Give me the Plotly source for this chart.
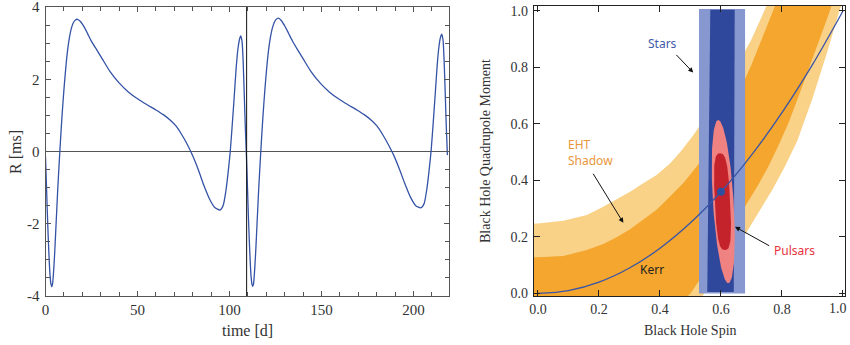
import numpy as np
import plotly.graph_objects as go

# ---------------- Left panel data: timing residual ----------------
time_d = [0, 0.5, 1.0, 1.5, 2.0, 2.5, 3.0, 3.4, 3.8, 4.3, 5.0, 5.8, 6.6, 7.4, 8.2, 9.0, 10.0, 11.0, 12.0,
          13.0, 14.0, 15.0, 16.0, 17.4, 19.0, 21.0, 23.0, 25.0, 28.0, 31.0, 35.0, 40.0, 45.0, 50.0, 55.0,
          60.0, 64.0, 68.0, 71.0, 74.0, 77.0, 80.0, 83.0, 86.0, 89.0, 92.0, 94.8, 96.5, 98.0, 99.2, 100.4,
          101.5, 102.6, 103.6, 104.6, 105.4, 106.1, 106.8, 107.4, 108.0, 108.6,
          109.2, 109.7, 110.2, 110.7, 111.2, 111.7, 112.2, 112.6, 113.0, 113.5, 114.2, 115.0, 115.8, 116.6,
          117.4, 118.2, 119.2, 120.2, 121.2, 122.2, 123.2, 124.2, 125.2, 126.6, 128.2, 130.2, 132.2, 134.2,
          137.2, 140.2, 144.2, 149.2, 154.2, 159.2, 164.2, 169.2, 173.2, 177.2, 180.2, 183.2, 186.2, 189.2,
          192.2, 195.2, 198.2, 201.2, 204.0, 205.7, 207.2, 208.4, 209.6, 210.7, 211.8, 212.8, 213.8, 214.6,
          215.3, 216.0, 216.6, 217.2, 217.8, 218.4]
residual_ms = [-0.15, -0.9, -1.7, -2.4, -3.0, -3.45, -3.68, -3.74, -3.68, -3.4, -2.8, -1.95, -1.1, -0.35, 0.35,
               1.0, 1.7, 2.3, 2.8, 3.15, 3.4, 3.55, 3.63, 3.66, 3.6, 3.45, 3.25, 3.05, 2.8, 2.55, 2.22, 1.9,
               1.65, 1.46, 1.3, 1.15, 1.02, 0.86, 0.7, 0.47, 0.2, -0.12, -0.5, -0.93, -1.3, -1.55, -1.62,
               -1.5, -1.1, -0.6, 0.0, 0.75, 1.55, 2.3, 2.85, 3.1, 3.2, 3.05, 2.5, 1.6, 0.65,
               -0.15, -0.9, -1.7, -2.4, -3.0, -3.45, -3.68, -3.73, -3.68, -3.4, -2.8, -1.95, -1.1, -0.35,
               0.35, 1.0, 1.7, 2.3, 2.8, 3.15, 3.4, 3.56, 3.65, 3.69, 3.62, 3.46, 3.26, 3.06, 2.8, 2.55, 2.22,
               1.9, 1.65, 1.46, 1.3, 1.15, 1.02, 0.86, 0.7, 0.47, 0.2, -0.1, -0.47, -0.88, -1.25, -1.5, -1.56,
               -1.45, -1.05, -0.55, 0.05, 0.8, 1.6, 2.35, 2.9, 3.15, 3.25, 3.1, 2.55, 1.65, 0.7, -0.1]
conjunction_t = 109.3
time_ticks = [0, 50, 100, 150, 200]
resid_ticks = [-4, -2, 0, 2, 4]
resid_labels = ["-4", "-2", "0", "2", "4"]

# ---------------- Right panel data: spin vs quadrupole ----------------
kerr_spin = [0.0, 0.1, 0.2, 0.3, 0.4, 0.5, 0.6, 0.7, 0.8, 0.9, 1.0]
kerr_quad = [0.0, 0.01, 0.04, 0.09, 0.16, 0.25, 0.36, 0.49, 0.64, 0.81, 1.0]

eht_outer_upper_x = [-0.02, 0.0, 0.083, 0.16, 0.214, 0.258, 0.302, 0.345, 0.389, 0.433, 0.47, 0.509,
                     0.55, 0.60, 0.65, 0.70, 0.741, 0.75]
eht_outer_upper_y = [0.248, 0.248, 0.257, 0.278, 0.307, 0.333, 0.36, 0.39, 0.419, 0.46, 0.505, 0.56,
                     0.625, 0.71, 0.80, 0.90, 1.0, 1.02]
eht_outer_lower_x = [0.995, 0.988, 0.95, 0.90, 0.85, 0.81, 0.77, 0.72, 0.68, 0.64, 0.60, 0.56, 0.54]
eht_outer_lower_y = [1.02, 1.0, 0.86, 0.69, 0.54, 0.45, 0.37, 0.28, 0.21, 0.15, 0.09, 0.03, -0.01]

eht_inner_upper_x = [-0.02, 0.0, 0.083, 0.16, 0.214, 0.258, 0.302, 0.345, 0.389, 0.433, 0.476, 0.52,
                     0.56, 0.60, 0.65, 0.70, 0.74, 0.772, 0.778]
eht_inner_upper_y = [0.128, 0.128, 0.133, 0.154, 0.175, 0.199, 0.227, 0.26, 0.296, 0.343, 0.39, 0.449,
                     0.51, 0.585, 0.69, 0.81, 0.915, 1.0, 1.02]
eht_inner_lower_x = [0.962, 0.957, 0.92, 0.88, 0.85, 0.82, 0.787, 0.755, 0.72, 0.68, 0.64, 0.60, 0.55,
                     0.50, 0.49]
eht_inner_lower_y = [1.02, 1.0, 0.89, 0.77, 0.685, 0.60, 0.52, 0.449, 0.38, 0.31, 0.24, 0.17, 0.08,
                     0.0, -0.01]

stars_outer_x = [0.528, 0.528, 0.679, 0.679]
stars_outer_y = [0.0, 1.007, 1.007, 0.0]
stars_inner_x = [0.555, 0.565, 0.645, 0.642]
stars_inner_y = [0.005, 1.004, 1.004, 0.005]

# pulsar ellipses: centre, half-length vector, half-width (in spin units)
pulsar_outer = dict(cx=0.6075, cy=0.325, ux=-0.0165, uy=0.289, w=0.034)
pulsar_inner = dict(cx=0.605, cy=0.325, ux=-0.008, uy=0.171, w=0.025)
best_spin = [0.6]
best_quad = [0.36]
spin_ticks = [0.0, 0.2, 0.4, 0.6, 0.8, 1.0]
spin_labels = ["0.0", "0.2", "0.4", "0.6", "0.8", "1.0"]


def ellipse(p, power=2.0, n=120):
    t = np.linspace(0, 2 * np.pi, n)
    c, s = np.cos(t), np.sin(t)
    c2 = np.sign(c) * np.abs(c) ** (2.0 / power)
    s2 = np.sign(s) * np.abs(s) ** (2.0 / power)
    x = p["cx"] + p["ux"] * c2 + p["w"] * s2
    y = p["cy"] + p["uy"] * c2
    return x, y


fig = go.Figure()

fig.add_trace(go.Scatter(x=time_d, y=residual_ms, mode="lines",
                         line=dict(color="#3452A6", width=1.3, shape="spline", smoothing=0.6),
                         xaxis="x", yaxis="y", hoverinfo="skip"))

fig.add_trace(go.Scatter(x=eht_outer_upper_x + eht_outer_lower_x + [-0.02],
                         y=eht_outer_upper_y + eht_outer_lower_y + [-0.01],
                         fill="toself", fillcolor="#F9D288", line=dict(width=0),
                         mode="lines", xaxis="x2", yaxis="y2", hoverinfo="skip"))
fig.add_trace(go.Scatter(x=eht_inner_upper_x + eht_inner_lower_x + [-0.02],
                         y=eht_inner_upper_y + eht_inner_lower_y + [-0.01],
                         fill="toself", fillcolor="#F4A62E", line=dict(width=0),
                         mode="lines", xaxis="x2", yaxis="y2", hoverinfo="skip"))
fig.add_trace(go.Scatter(x=stars_outer_x, y=stars_outer_y, fill="toself", fillcolor="#8698CF",
                         line=dict(width=0), mode="lines", xaxis="x2", yaxis="y2", hoverinfo="skip"))
fig.add_trace(go.Scatter(x=stars_inner_x, y=stars_inner_y, fill="toself", fillcolor="#30489C",
                         line=dict(width=0), mode="lines", xaxis="x2", yaxis="y2", hoverinfo="skip"))
ex, ey = ellipse(pulsar_outer, 2.0)
fig.add_trace(go.Scatter(x=ex, y=ey, fill="toself", fillcolor="#F08282", line=dict(width=0),
                         mode="lines", xaxis="x2", yaxis="y2", hoverinfo="skip"))
ex, ey = ellipse(pulsar_inner, 3.0)
fig.add_trace(go.Scatter(x=ex, y=ey, fill="toself", fillcolor="#C4232B", line=dict(width=0),
                         mode="lines", xaxis="x2", yaxis="y2", hoverinfo="skip"))
fig.add_trace(go.Scatter(x=kerr_spin, y=kerr_quad, mode="lines",
                         line=dict(color="#3A55A5", width=1.3, shape="spline"),
                         xaxis="x2", yaxis="y2", hoverinfo="skip"))
fig.add_trace(go.Scatter(x=best_spin, y=best_quad, mode="markers",
                         marker=dict(color="#2F4FA0", size=8), xaxis="x2", yaxis="y2", hoverinfo="skip"))

serif = "Liberation Serif"
sans = "Noto Sans"
W, H = 850, 345

left_dom_x = [45.5 / W, 448.5 / W]
left_dom_y = [(H - 296) / H, (H - 7) / H]
right_dom_x = [534 / W, 844.5 / W]
right_dom_y = [(H - 296) / H, (H - 5.9) / H]

frame_l = "#555555"
frame_r = "#222222"

fig.update_layout(
    template="none",
    width=W, height=H, margin=dict(l=0, r=0, t=0, b=0, autoexpand=False),
    paper_bgcolor="white", plot_bgcolor="white", showlegend=False,
    xaxis=dict(domain=left_dom_x, range=[0, 219], tickvals=time_ticks, ticks="inside", ticklen=5,
               tickcolor=frame_l, showline=True, linecolor=frame_l, linewidth=1, mirror="allticks",
               showgrid=False, zeroline=False, anchor="y", automargin=False, ticklabeloverflow="allow",
               tickfont=dict(family=serif, size=15, color="#333"),
               minor=dict(dtick=10, ticks="inside", ticklen=4, tickcolor=frame_l, showgrid=False)),
    yaxis=dict(domain=left_dom_y, range=[-4, 4], tickvals=resid_ticks, ticktext=resid_labels,
               ticks="inside", ticklen=5,
               tickcolor=frame_l, showline=True, linecolor=frame_l, linewidth=1, mirror="allticks",
               showgrid=False, zeroline=True, zerolinecolor="#555555", zerolinewidth=1.2, anchor="x",
               automargin=False, ticklabeloverflow="allow",
               tickfont=dict(family=serif, size=15, color="#333"), ticklabelstandoff=2,
               minor=dict(dtick=0.5, ticks="inside", ticklen=4, tickcolor=frame_l, showgrid=False)),
    xaxis2=dict(domain=right_dom_x, range=[-0.013, 1.005], tickvals=spin_ticks,
                ticktext=spin_labels[:-1] + [""], ticks="inside", ticklen=6,
                tickcolor=frame_r, showline=True, linecolor=frame_r, linewidth=1.2, mirror="allticks",
                showgrid=False, zeroline=False, anchor="y2", automargin=False, ticklabeloverflow="allow",
                tickfont=dict(family=serif, size=14, color="#333")),
    yaxis2=dict(domain=right_dom_y, range=[-0.009, 1.018], tickvals=spin_ticks,
                ticktext=spin_labels, ticks="inside", ticklen=6,
                tickcolor=frame_r, showline=True, linecolor=frame_r, linewidth=1.2, mirror="allticks",
                showgrid=False, zeroline=False, anchor="x2", ticklabelstandoff=2, automargin=False,
                ticklabeloverflow="allow",
                tickfont=dict(family=serif, size=14, color="#333")),
)

fig.add_shape(type="line", xref="x", yref="y domain", x0=conjunction_t, x1=conjunction_t, y0=0, y1=1,
              line=dict(color="#111", width=1))

ann = []
ann.append(dict(text="time [d]", x=247 / W, y=(H - 330) / H, xref="paper", yref="paper",
                showarrow=False, font=dict(family=serif, size=16, color="#333"),
                xanchor="center", yanchor="middle"))
ann.append(dict(text="R [ms]", x=15 / W, y=(H - 152) / H, xref="paper", yref="paper", textangle=-90,
                showarrow=False, font=dict(family=serif, size=16, color="#333"),
                xanchor="center", yanchor="middle"))
ann.append(dict(text="Black Hole Spin", x=690 / W, y=(H - 330.5) / H, xref="paper", yref="paper",
                showarrow=False, font=dict(family=serif, size=14, color="#333"),
                xanchor="center", yanchor="middle"))
ann.append(dict(text="Black Hole Quadrupole Moment", x=485 / W, y=(H - 151) / H, xref="paper",
                yref="paper", textangle=-90, showarrow=False,
                font=dict(family=serif, size=14, color="#333"), xanchor="center", yanchor="middle"))
# last spin tick label, kept inside the page
ann.append(dict(text=spin_labels[-1], x=849 / W, y=(H - 308.5) / H, xref="paper", yref="paper",
                showarrow=False, font=dict(family=serif, size=14, color="#333"),
                xanchor="right", yanchor="middle"))
ann.append(dict(text="EHT<br>Shadow", x=0.092, y=0.50, xref="x2", yref="y2", showarrow=False,
                align="left", xanchor="left", yanchor="middle",
                font=dict(family=sans, size=12, color="#E8963A")))
ann.append(dict(text="Stars", x=0.409, y=0.886, xref="x2", yref="y2", showarrow=False,
                font=dict(family=sans, size=12, color="#3F5BAA")))
ann.append(dict(text="Pulsars", x=0.84, y=0.152, xref="x2", yref="y2", showarrow=False,
                font=dict(family=sans, size=12, color="#E8333C")))
ann.append(dict(text="Kerr", x=0.373, y=0.086, xref="x2", yref="y2", showarrow=False,
                font=dict(family=sans, size=12, color="#222")))
for (x0, y0, x1, y1) in [(0.178, 0.429, 0.28, 0.25), (0.449, 0.85, 0.509, 0.782),
                         (0.763, 0.166, 0.646, 0.236)]:
    ann.append(dict(x=x1, y=y1, ax=x0, ay=y0, xref="x2", yref="y2", axref="x2", ayref="y2",
                    text="", showarrow=True, arrowhead=2, arrowsize=1, arrowwidth=1, arrowcolor="#111"))
fig.update_layout(annotations=ann)

fig.write_html("out.html", config={"displayModeBar": False, "staticPlot": True},
               post_script="document.body.style.margin='0px';document.body.style.overflow='hidden';")
